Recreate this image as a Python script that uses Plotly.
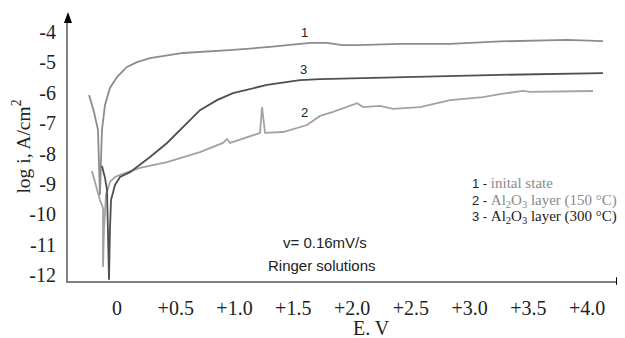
import plotly.graph_objects as go

# Curve 1 - initial state
e1 = [-0.238, -0.196, -0.162, -0.153, -0.145, -0.136, -0.128, -0.102, -0.060, 0.0, 0.085, 0.170,
      0.281, 0.562, 0.987, 1.302, 1.557, 1.643, 1.787, 1.915, 2.043, 2.409, 2.834, 3.260, 3.830, 4.136]
l1 = [-6.07, -6.63, -7.22, -8.21, -9.36, -8.21, -7.22, -6.40, -5.84, -5.48, -5.15, -4.99,
      -4.86, -4.69, -4.59, -4.49, -4.39, -4.36, -4.36, -4.43, -4.43, -4.39, -4.39, -4.31, -4.26, -4.30]

# Curve 2 - Al2O3 layer (150 C)
e2 = [-0.213, -0.170, -0.145, -0.119, -0.119, -0.111, -0.094, -0.060, -0.017, 0.026, 0.196, 0.426,
      0.706, 0.902, 0.936, 0.962, 1.217, 1.234, 1.260, 1.413, 1.617, 1.728, 1.838, 2.043, 2.094,
      2.238, 2.349, 2.579, 2.834, 3.115, 3.260, 3.455, 3.515, 4.051]
l2 = [-8.57, -9.20, -9.53, -9.79, -11.73, -10.51, -9.36, -8.93, -8.77, -8.70, -8.47, -8.28,
      -7.95, -7.65, -7.52, -7.65, -7.32, -6.47, -7.32, -7.29, -7.06, -6.76, -6.63, -6.34, -6.47,
      -6.43, -6.53, -6.47, -6.24, -6.14, -6.04, -5.94, -5.97, -5.94]

# Curve 3 - Al2O3 layer (300 C)
e3 = [-0.128, -0.102, -0.085, -0.077, -0.068, -0.060, -0.051, -0.017, 0.026, 0.111, 0.281, 0.426,
      0.562, 0.706, 0.851, 0.987, 1.277, 1.557, 1.728, 2.409, 3.260, 4.136]
l3 = [-8.41, -8.80, -9.20, -10.51, -12.15, -10.51, -9.53, -9.03, -8.77, -8.61, -8.11, -7.65,
      -7.13, -6.57, -6.24, -6.01, -5.74, -5.58, -5.55, -5.48, -5.41, -5.35]

x_ticks = [0, 0.5, 1.0, 1.5, 2.0, 2.5, 3.0, 3.5, 4.0]
x_labels = ["0", "+0.5", "+1.0", "+1.5", "+2.0", "+2.5", "+3.0", "+3.5", "+4.0"]
y_ticks = [-4, -5, -6, -7, -8, -9, -10, -11, -12]
y_labels = ["-4", "-5", "-6", "-7", "-8", "-9", "-10", "-11", "-12"]

SERIF = "Liberation Serif"
SANS = "Liberation Sans"

fig = go.Figure()
fig.add_trace(go.Scatter(x=e1, y=l1, mode="lines", line=dict(color="#8c8c8c", width=1.8), showlegend=False))
fig.add_trace(go.Scatter(x=e2, y=l2, mode="lines", line=dict(color="#a2a2a2", width=1.8), showlegend=False))
fig.add_trace(go.Scatter(x=e3, y=l3, mode="lines", line=dict(color="#4f4f4f", width=1.8), showlegend=False))

# page body has an 8px default margin, so the figure is sized to fit the window
fig.update_layout(
    width=617, height=330,
    margin=dict(l=60, r=6, t=12, b=57),
    paper_bgcolor="white", plot_bgcolor="white",
    xaxis=dict(range=[-0.417, 4.272], tickvals=x_ticks, ticktext=x_labels, showgrid=False,
               zeroline=False, showline=True, linecolor="#808080", linewidth=2, ticks="", ticklen=0,
               tickfont=dict(family=SERIF, size=20, color="#222"), ticklabelstandoff=8),
    yaxis=dict(range=[-12.191, -3.605], tickvals=y_ticks, ticktext=y_labels, showgrid=False,
               zeroline=False, showline=True, linecolor="#808080", linewidth=2, ticks="", ticklen=0,
               tickfont=dict(family=SERIF, size=20, color="#222"), ticklabelstandoff=6),
)

# arrowheads
fig.add_shape(type="path", xref="paper", yref="paper",
              path="M 0.9946 -0.0153 L 1.0109 0 L 0.9946 0.0153 Z",
              fillcolor="black", line=dict(color="black", width=0))
fig.add_shape(type="path", xref="paper", yref="paper",
              path="M -0.0073 0.9885 L 0 1.0307 L 0.0073 0.9885 Z",
              fillcolor="black", line=dict(color="black", width=0))

def ann(text, x, y, size, family, color="#222", xanchor="center", angle=0):
    fig.add_annotation(text=text, x=x, y=y, xref="paper", yref="paper", showarrow=False,
                       xanchor=xanchor, yanchor="middle", textangle=angle,
                       font=dict(family=family, size=size, color=color))

ann("1", 0.430, 0.954, 13, SANS)
ann("3", 0.4265, 0.812, 13, SANS)
ann("2", 0.430, 0.6475, 13, SANS)
ann("v= 0.16mV/s", 0.4664, 0.1494, 15, SANS)
ann("Ringer solutions", 0.461, 0.0575, 15, SANS)
ann("E. V", 0.5517, -0.180, 20, SERIF)
ann("log i, A/cm<sup>2</sup>", -0.0853, 0.515, 19.5, SERIF, angle=-90)

span = "<span style='font-family:Liberation Serif;font-size:15px;color:{c}'>{t}</span>"
ann("1 - " + span.format(c="#8a8a8a", t="inital state"), 0.730, 0.3755, 13, SANS, xanchor="left")
ann("2 - " + span.format(c="#8a8a8a", t="Al<sub>2</sub>O<sub>3</sub> layer (150 °C)"), 0.730, 0.3065, 13, SANS, xanchor="left")
ann("3 - " + span.format(c="#222222", t="Al<sub>2</sub>O<sub>3</sub> layer (300 °C)"), 0.730, 0.245, 13, SANS, xanchor="left")

fig.write_html("out.html")
